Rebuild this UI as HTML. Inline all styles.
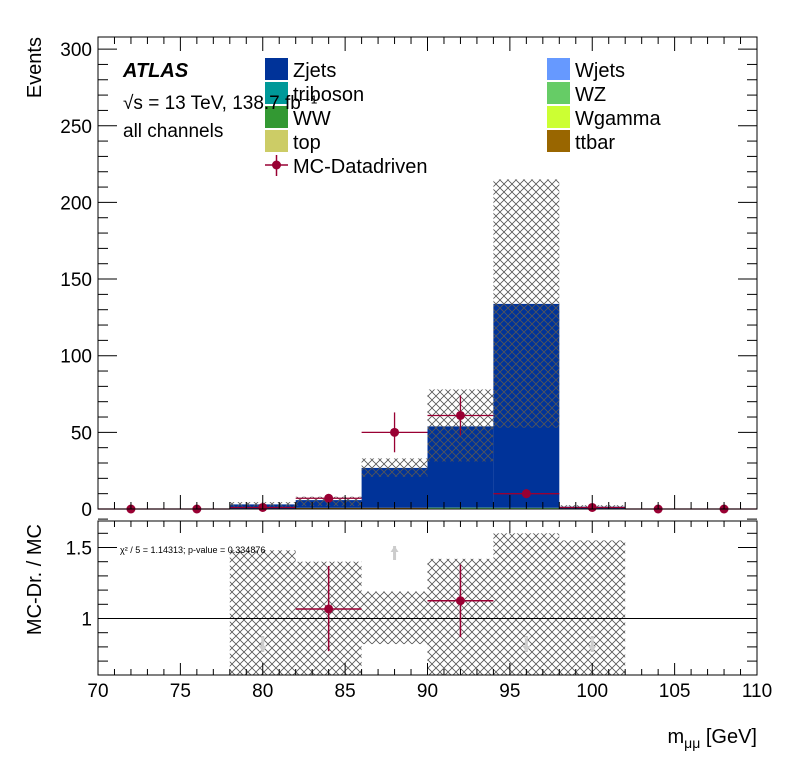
<!DOCTYPE html>
<html><head><meta charset="utf-8"><style>
body{margin:0;background:#fff;}
svg{display:block;font-family:"Liberation Sans",sans-serif;}
</style></head><body>
<svg id="c" width="796" height="772" xmlns="http://www.w3.org/2000/svg">
<defs>
<pattern id="hatch" width="8" height="8" patternUnits="userSpaceOnUse">
<path d="M0,0 L8,8 M8,0 L0,8" stroke="#555" stroke-width="0.8" fill="none"/>
</pattern>
</defs>
</svg>
<script>
const binEdges=[70,74,78,82,86,90,94,98,102,106,110];
const zjets=[0,0,3,5,26,53,133,1.5,0,0];
const ttbar=[0,0,0,0.8,0.8,0.3,0,0,0,0];
const wz=[0,0,0,0,0,0.6,0.8,0,0,0];
const uncUp=[0,0,4.5,8,33,78,215,2.5,0,0];
const uncDn=[0,0,1.5,2,21,31,53,0.5,0,0];
const dataX=[72,76,80,84,88,92,96,100,104,108];
const dataY=[0,0,1,7,50,61,10,1,0,0];
const dataErr=[0,0,1,2.6,13,13,3,1,0,0];
const ratioUp=[null,null,1.48,1.40,1.19,1.42,1.60,1.55,null,null];
const ratioDn=[null,null,0.6,0.6,0.82,0.6,0.6,0.6,null,null];
const ratioX=[84,92];
const ratioY=[1.067,1.125];
const ratioErrUp=[1.37,1.38];
const ratioErrDn=[0.77,0.87];
const arrowX=[80,88,96,100];
const arrowDir=[-1,1,-1,-1];
const xTicks=[70,75,80,85,90,95,100,105,110];
const yTicks=[0,50,100,150,200,250,300];
const rTicks=[1,1.5];

const NS="http://www.w3.org/2000/svg";
const svg=document.getElementById('c');
const X=v=>98+(v-70)*(757-98)/40;
const Y=v=>509-v*1.533;
const R=v=>618.5-(v-1)*142;
function el(t,a,p){const e=document.createElementNS(NS,t);for(const k in a)e.setAttribute(k,a[k]);(p||svg).appendChild(e);return e;}
function txt(s,a){const e=el('text',a);e.textContent=s;return e;}

for(let i=0;i<zjets.length;i++){
  const x0=X(binEdges[i]),x1=X(binEdges[i+1]);
  let base=0;
  const layers=[[ttbar[i],'#996600'],[wz[i],'#66cc66'],[zjets[i],'#003399']];
  for(const [v,c] of layers){
    if(v>0){const r=el('rect',{x:x0,y:Y(base+v),width:x1-x0,height:Y(base)-Y(base+v),fill:c});
    
    }
    base+=v;
  }
  if(uncUp[i]>0){const h=el('rect',{x:x0,y:Y(uncUp[i]),width:x1-x0,height:Y(uncDn[i])-Y(uncUp[i]),fill:'url(#hatch)'});
  
  }
}
for(let i=0;i<dataX.length;i++){
  const cx=X(dataX[i]),cy=Y(dataY[i]);
  const g=el('g',{});
  
  
  el('line',{x1:X(dataX[i]-2),x2:X(dataX[i]+2),y1:cy,y2:cy,stroke:'#990033','stroke-width':1.3},g);
  if(dataErr[i]>0)el('line',{x1:cx,x2:cx,y1:Y(dataY[i]+dataErr[i]),y2:Math.min(509,Y(dataY[i]-dataErr[i])),stroke:'#990033','stroke-width':1.3},g);
  el('circle',{cx:cx,cy:cy,r:4.5,fill:'#990033'},g);
}
el('rect',{x:98,y:37,width:659,height:472,fill:'none',stroke:'#000','stroke-width':1});
for(let i=0;i<ratioUp.length;i++){
  if(ratioUp[i]==null)continue;
  const x0=X(binEdges[i]),x1=X(binEdges[i+1]);
  const r=el('rect',{x:x0,y:R(ratioUp[i]),width:x1-x0,height:Math.min(675,R(ratioDn[i]))-R(ratioUp[i]),fill:'url(#hatch)'});
  
  
}
el('line',{x1:98,x2:757,y1:R(1),y2:R(1),stroke:'#000','stroke-width':1});
for(let i=0;i<arrowX.length;i++){
  const cx=X(arrowX[i]);const y0=arrowDir[i]>0?560:636,y1=arrowDir[i]>0?546:652;
  const a=el('g',{});
  
  
  el('line',{x1:cx,x2:cx,y1:y0,y2:y1,stroke:'#ccc','stroke-width':3},a);
  const tip=y1, d=arrowDir[i]>0?6:-6;
  el('polygon',{points:`${cx-4},${tip+d} ${cx+4},${tip+d} ${cx},${tip}`,fill:'#ccc'},a);
}
for(let i=0;i<ratioX.length;i++){
  const cx=X(ratioX[i]),cy=R(ratioY[i]);
  const g=el('g',{});
  
  
  el('line',{x1:X(ratioX[i]-2),x2:X(ratioX[i]+2),y1:cy,y2:cy,stroke:'#990033','stroke-width':1.5},g);
  el('line',{x1:cx,x2:cx,y1:R(ratioErrUp[i]),y2:R(ratioErrDn[i]),stroke:'#990033','stroke-width':1.5},g);
  el('circle',{cx:cx,cy:cy,r:4.5,fill:'#990033'},g);
}
el('rect',{x:98,y:521,width:659,height:154,fill:'none',stroke:'#000','stroke-width':1});

for(let v=70;v<=110;v++){
  const x=X(v),maj=v%5==0;
  const L=maj?14:7, Lr=maj?12:6;
  el('line',{x1:x,x2:x,y1:509,y2:509-L,stroke:'#000'});
  el('line',{x1:x,x2:x,y1:37,y2:37+L,stroke:'#000'});
  el('line',{x1:x,x2:x,y1:675,y2:675-Lr,stroke:'#000'});
  el('line',{x1:x,x2:x,y1:521,y2:521+Lr,stroke:'#000'});
}
for(let v=0;v<=300;v+=10){
  const y=Y(v),L=v%50==0?19:10;
  el('line',{x1:98,x2:98+L,y1:y,y2:y,stroke:'#000'});
  el('line',{x1:757,x2:757-L,y1:y,y2:y,stroke:'#000'});
}
for(let v=0.7;v<=1.76;v+=0.1){
  const y=R(v),maj=Math.abs(v*2-Math.round(v*2))<0.01,L=maj?19:10;
  el('line',{x1:98,x2:98+L,y1:y,y2:y,stroke:'#000'});
  el('line',{x1:757,x2:757-L,y1:y,y2:y,stroke:'#000'});
}
xTicks.forEach(v=>{const t=txt(v,{x:X(v),y:697,'font-size':19,'text-anchor':'middle'});});
yTicks.forEach(v=>{const t=txt(v,{x:92,y:Y(v)+7,'font-size':19,'text-anchor':'end'});});
rTicks.forEach(v=>{const t=txt(v,{x:92,y:R(v)+7,'font-size':19,'text-anchor':'end'});});

const leg=[['Zjets','#003399',265,69],['triboson','#009999',265,93],['WW','#339933',265,117],['top','#cccc66',265,141],
['Wjets','#6699ff',547,69],['WZ','#66cc66',547,93],['Wgamma','#ccff33',547,117],['ttbar','#996600',547,141]];
leg.forEach(([n,c,x,y])=>{
  const g=el('g',{});
  
  
  el('rect',{x:x,y:y-11,width:23,height:22,fill:c},g);
  const t=el('text',{x:x+28,y:y+8,'font-size':20},g);t.textContent=n;
});
</script>
<svg width="796" height="772" style="position:absolute;left:0;top:0" xmlns="http://www.w3.org/2000/svg" font-family="Liberation Sans, sans-serif">
<g>
<line x1="265" x2="288" y1="165" y2="165" stroke="#990033" stroke-width="1.5"/>
<line x1="276.5" x2="276.5" y1="155" y2="176" stroke="#990033" stroke-width="1.5"/>
<circle cx="276.5" cy="165" r="4.5" fill="#990033"/>
<text x="293" y="173" font-size="20">MC-Datadriven</text>
</g>
<text x="123" y="77" font-size="20" font-weight="bold" font-style="italic">ATLAS</text>
<text x="123" y="109" font-size="19">√s = 13 TeV, 138.7 fb⁻¹</text>
<text x="123" y="137" font-size="19">all channels</text>
<text x="120" y="553" font-size="9">χ² / 5 = 1.14313; p-value = 0.334876</text>
<text transform="translate(41,37) rotate(-90)" text-anchor="end" font-size="20">Events</text>
<text transform="translate(41,524) rotate(-90)" text-anchor="end" font-size="20">MC-Dr. / MC</text>
<text x="757" y="743" text-anchor="end" font-size="20">m<tspan font-size="14" dy="5">μμ</tspan><tspan dy="-5"> [GeV]</tspan></text>
</svg>
</body></html>
